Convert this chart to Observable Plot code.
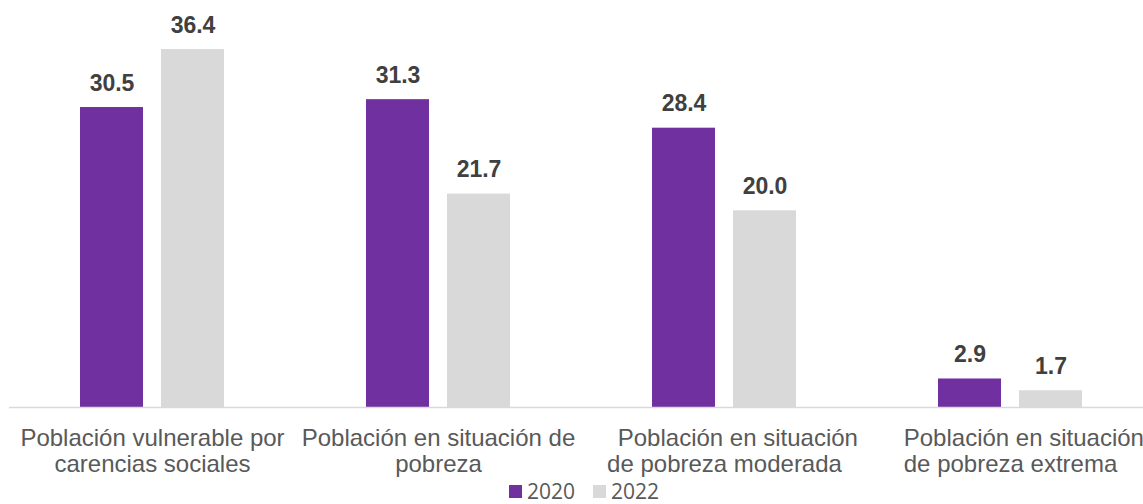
<!DOCTYPE html>
<html><head><meta charset="utf-8">
<script src="https://cdn.jsdelivr.net/npm/d3@7"></script>
<script src="https://cdn.jsdelivr.net/npm/@observablehq/plot@0.6"></script>
<style>
body{margin:0;background:#fff;overflow:hidden}
#chart{position:relative;width:1143px;height:504px;overflow:hidden}
#chart svg{display:block}
.legend{position:absolute;left:509px;top:479px;display:flex;align-items:center;font-family:"Open Sans",sans-serif;font-size:21px;line-height:24px;color:#595959}
.legend .item{display:flex;align-items:center}
.legend .sw{width:13px;height:13px;margin-right:5px}
.legend .item + .item{margin-left:18px}
</style></head><body><div id="chart"></div>
<script>
const categories = [
  "Población vulnerable por\ncarencias sociales",
  "Población en situación de\npobreza",
  "\u00a0\u00a0\u00a0\u00a0Población en situación\nde pobreza moderada",
  "\u00a0\u00a0\u00a0\u00a0Población en situación\nde pobreza extrema"
];
const years = ["2020", "2022"];
const values2020 = [30.5, 31.3, 28.4, 2.9];
const values2022 = [36.4, 21.7, 20.0, 1.7];
const colors = ["#7030A0", "#D9D9D9"];

const data = categories.flatMap((c, i) => [
  {category: c, year: years[0], value: values2020[i]},
  {category: c, year: years[1], value: values2022[i]}
]);

const plot = Plot.plot({
  width: 1143, height: 481,
  marginLeft: 9, marginRight: -10, marginTop: 13.6, marginBottom: 74,
  style: {fontFamily: "'Liberation Sans', Arial, sans-serif", background: "white", overflow: "visible"},
  fx: {domain: categories, padding: 0, label: null},
  x: {domain: years, paddingInner: 0.22, paddingOuter: 0.854, axis: null},
  y: {domain: [0, 40], axis: null},
  color: {domain: years, range: colors},
  marks: [
    Plot.barY(data, {fx: "category", x: "year", y: "value", fill: "year"}),
    Plot.ruleY([0], {stroke: "#D9D9D9", strokeWidth: 1.5}),
    Plot.text(data, {fx: "category", x: "year", y: "value", text: d => d.value.toFixed(1),
      lineAnchor: "bottom", dy: -17, fontSize: 23, fontWeight: "bold", fill: "#404040"}),
    Plot.axisFx({anchor: "bottom", tickSize: 0, tickPadding: 20, fontSize: 24, lineHeight: 1.083, color: "#595959", label: null})
  ]
});
const chart = document.getElementById("chart");
chart.appendChild(plot);

const legend = document.createElement("div");
legend.className = "legend";
years.forEach((y, i) => {
  const it = document.createElement("div");
  it.className = "item";
  it.innerHTML = `<span class="sw" style="background:${colors[i]}"></span><span>${y}</span>`;
  legend.appendChild(it);
});
chart.appendChild(legend);
</script>
</body></html>
